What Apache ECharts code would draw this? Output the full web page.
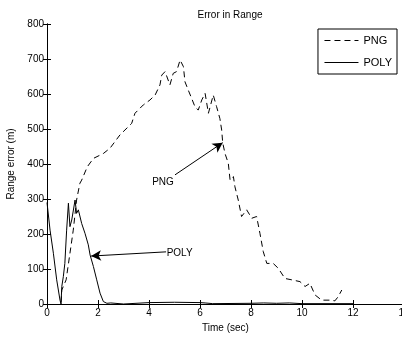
<!DOCTYPE html>
<html><head><meta charset="utf-8">
<script src="https://cdn.jsdelivr.net/npm/echarts@6/dist/echarts.min.js"></script>
<style>html,body{margin:0;padding:0;background:#fff}#c{width:402px;height:338px}</style>
</head><body><div id="c"></div>
<script>
const xTicks = [0, 2, 4, 6, 8, 10, 12, 14];
const yTicks = [0, 100, 200, 300, 400, 500, 600, 700, 800];
const pngT = [0.55,0.58,0.75,0.9,1.03,1.16,1.29,1.36,1.58,1.82,2.21,2.47,2.86,3.32,3.45,3.78,4.04,4.24,4.43,4.5,4.63,4.82,4.95,5.08,5.22,5.35,5.41,5.54,5.67,5.8,5.93,6.07,6.2,6.33,6.52,6.65,6.78,6.85,6.89,6.98,7.11,7.18,7.31,7.37,7.5,7.63,7.83,8.03,8.22,8.35,8.48,8.62,8.87,9.07,9.33,9.6,9.92,10.12,10.31,10.51,10.77,11.1,11.29,11.42,11.56];
const pngV = [5,40,69,145,211,297,345,354,392,416,430,445,483,516,545,569,583,597,626,654,664,626,659,664,697,678,635,611,588,564,554,583,602,545,597,564,530,497,461,430,402,354,364,335,297,250,269,245,250,202,150,116,116,102,73,69,64,50,59,26,11,11,9,21,40];
const polyT = [0,0.12,0.25,0.38,0.51,0.55,0.58,0.64,0.7,0.77,0.84,0.9,0.97,1.1,1.16,1.23,1.36,1.49,1.62,1.69,1.82,1.95,2.08,2.21,2.35,2.5,3,4,5,6,6.2,6.5,8,8.5,9,9.5,10,12];
const polyV = [290,211,145,69,11,0,50,78,116,211,288,221,240,297,259,269,230,202,169,140,107,69,31,7,2,3,0,4,5,4,3,1,2,3,2,3,1,1];
const seriesNames = ['PNG', 'POLY'];
const pngArrow = [[5.02, 369], [6.89, 461]];
const polyArrow = [[4.67, 149], [1.73, 137]];
const pngLabelAt = [4.55, 349];
const polyLabelAt = [5.2, 146];

const FONT = 'Liberation Sans';
const chart = echarts.init(document.getElementById('c'));
const zip = (a, b) => a.map((t, i) => [t, b[i]]);
const axisCommon = {
  axisLine: { show: true, lineStyle: { color: '#000', width: 1 } },
  axisTick: { show: true, inside: true, length: 4, lineStyle: { color: '#000' } },
  splitLine: { show: false },
};
chart.setOption({
  animation: false,
  backgroundColor: '#fff',
  textStyle: { fontFamily: FONT },
  title: { text: 'Error in Range', left: 225, textAlign: 'center', top: 5,
    textStyle: { fontFamily: FONT, fontSize: 10, fontWeight: 'normal', color: '#000' } },
  legend: {
    orient: 'vertical', right: 5, top: 29, data: seriesNames,
    itemWidth: 34, itemHeight: 10, itemGap: 11, padding: [6, 5, 6, 6],
    itemStyle: { opacity: 0 }, lineStyle: { width: 1 },
    borderColor: '#000', borderWidth: 1, backgroundColor: '#fff',
    textStyle: { fontFamily: FONT, fontSize: 11, color: '#000' }
  },
  grid: { left: 47, right: -2, top: 24, bottom: 34, outerBoundsMode: 'none', containLabel: false },
  xAxis: [
    Object.assign({ type: 'value', min: xTicks[0], max: xTicks[xTicks.length - 1], interval: 2,
      name: 'Time (sec)', nameLocation: 'middle', nameGap: 19,
      nameTextStyle: { fontFamily: FONT, fontSize: 10, color: '#000' },
      axisLabel: { color: '#000', fontFamily: FONT, fontSize: 10, margin: 4 } }, axisCommon),
    Object.assign({ type: 'value', position: 'top', min: xTicks[0], max: xTicks[xTicks.length - 1], interval: 2,
      axisLabel: { show: false } }, axisCommon)
  ],
  yAxis: [
    Object.assign({ type: 'value', min: yTicks[0], max: yTicks[yTicks.length - 1], interval: 100,
      name: 'Range error (m)', nameLocation: 'middle', nameGap: 29,
      nameTextStyle: { fontFamily: FONT, fontSize: 10, color: '#000' },
      axisLabel: { color: '#000', fontFamily: FONT, fontSize: 10, margin: 3 } }, axisCommon),
    Object.assign({ type: 'value', position: 'right', min: yTicks[0], max: yTicks[yTicks.length - 1], interval: 100,
      axisLabel: { show: false } }, axisCommon)
  ],
  series: [
    {
      name: seriesNames[0], type: 'line', data: zip(pngT, pngV), symbol: 'none',
      lineStyle: { color: '#000', width: 1, type: [6, 4] }, itemStyle: { color: '#000' },
      markLine: {
        silent: true, symbol: ['none', 'arrow'], symbolSize: [8, 10],
        lineStyle: { color: '#000', width: 1, type: 'solid' }, label: { show: false },
        data: [[{ coord: pngArrow[0] }, { coord: pngArrow[1] }]]
      },
      markPoint: {
        silent: true, symbol: 'circle', symbolSize: 1, itemStyle: { color: 'rgba(0,0,0,0)' },
        label: { show: true, position: 'inside', formatter: '{b}', color: '#000', fontFamily: FONT, fontSize: 10 },
        data: [{ name: 'PNG', coord: pngLabelAt }]
      }
    },
    {
      name: seriesNames[1], type: 'line', data: zip(polyT, polyV), symbol: 'none',
      lineStyle: { color: '#000', width: 1, type: 'solid' }, itemStyle: { color: '#000' },
      markLine: {
        silent: true, symbol: ['none', 'arrow'], symbolSize: [8, 10],
        lineStyle: { color: '#000', width: 1, type: 'solid' }, label: { show: false },
        data: [[{ coord: polyArrow[0] }, { coord: polyArrow[1] }]]
      },
      markPoint: {
        silent: true, symbol: 'circle', symbolSize: 1, itemStyle: { color: 'rgba(0,0,0,0)' },
        label: { show: true, position: 'inside', formatter: '{b}', color: '#000', fontFamily: FONT, fontSize: 10 },
        data: [{ name: 'POLY', coord: polyLabelAt }]
      }
    }
  ]
});
</script></body></html>
